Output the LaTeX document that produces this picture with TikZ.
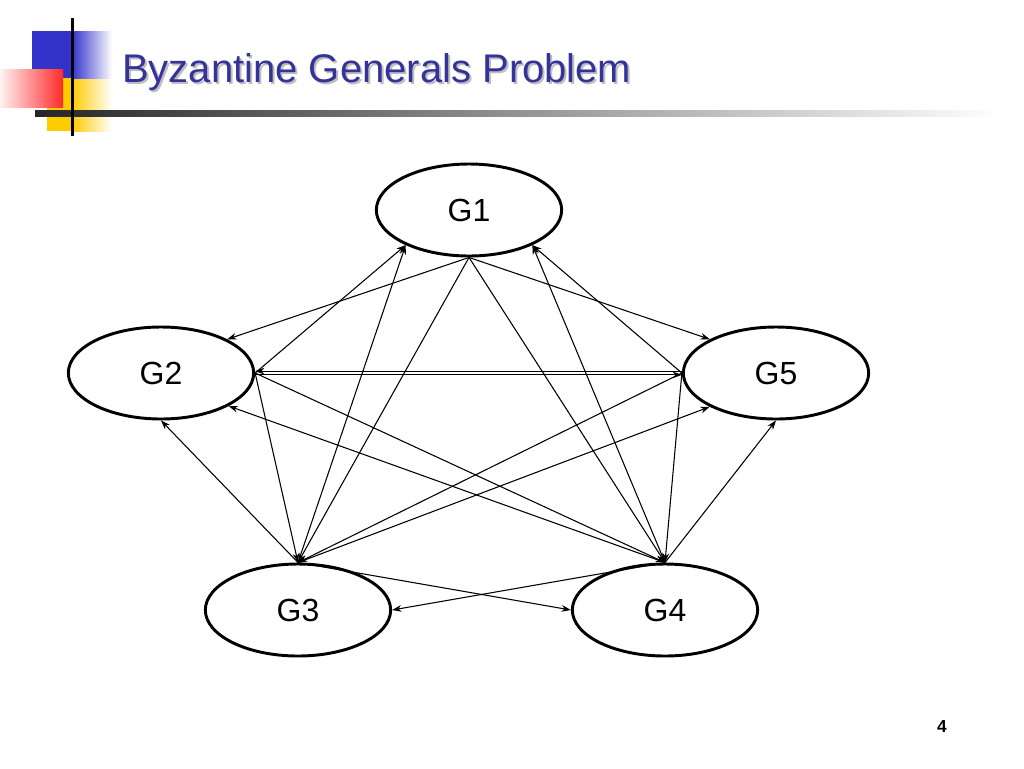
\documentclass[tikz,border=0pt]{standalone}
\usepackage{fontspec}
\setmainfont{Liberation Sans}
\usepackage{xcolor}
\usetikzlibrary{arrows.meta,shapes.geometric}

\definecolor{title_blue}{HTML}{333399}
\definecolor{deco_blue}{HTML}{3333CC}
\definecolor{deco_red}{HTML}{FF2A2A}
\definecolor{deco_yellow}{HTML}{FFCC00}

\begin{document}
\begin{tikzpicture}[
    x=0.75pt, y=-0.75pt,
    gen_box/.style={draw, ellipse, line width=2.2pt, fill=white, minimum width=139pt, minimum height=69pt, inner sep=0pt, font=\fontsize{24}{28}\selectfont},
    title_text/.style={anchor=base west, inner sep=0pt, font=\fontsize{30}{36}\selectfont},
    arrow/.style={-{Stealth[length=7pt,width=5pt]}, line width=0.8pt}
]
\useasboundingbox (0,0) rectangle (1024,768);

% slide decoration
\fill[deco_yellow] (47,78) rectangle (72,131);
\shade[left color=deco_yellow, right color=white] (72,78) rectangle (112,131);
\fill[deco_blue] (32,31) rectangle (72,78);
\shade[left color=deco_blue, right color=white] (72,31) rectangle (112,78);
\shade[left color=red!5, right color=deco_red] (0,69) rectangle (63,107);
\shade[left color=black!85, right color=white] (35,110) rectangle (1000,116);
\draw[line width=2.2pt] (72.5,18) -- (72.5,136);

\node (title_shadow) [title_text, text=gray!50] at (124,84) {Byzantine Generals Problem};
\node (title) [title_text, text=title_blue] at (122,82) {Byzantine Generals Problem};

% generals
\node (g1) [gen_box] at (469,210) {G1};
\node (g2) [gen_box] at (161,373) {G2};
\node (g5) [gen_box] at (776,373) {G5};
\node (g3) [gen_box] at (298,610) {G3};
\node (g4) [gen_box] at (665,610) {G4};

% G1 sends
\draw [arrow] (g1.south) -- (g2.27);
\draw [arrow] (g1.south) -- (g5.153);
\draw [arrow] (g1.south) -- (g3.north);
\draw [arrow] (g1.south) -- (g4.north);
% G2 sends
\draw [arrow] (g2.east) -- (g1.209);
\draw [arrow] ([yshift=-1.4pt]g2.east) -- ([yshift=-1.4pt]g5.west);
\draw [arrow] (g2.east) -- (g3.north);
\draw [arrow] (g2.east) -- (g4.north);
% G5 sends
\draw [arrow] (g5.west) -- (g1.331);
\draw [arrow] ([yshift=1.4pt]g5.west) -- ([yshift=1.4pt]g2.east);
\draw [arrow] (g5.west) -- (g3.north);
\draw [arrow] (g5.west) -- (g4.north);
% G3 sends
\draw [arrow] (g3.north) -- (g1.209);
\draw [arrow] (g3.north) -- (g2.south);
\draw [arrow] (g3.north) -- (g4.west);
\draw [arrow] (g3.north) -- (g5.207);
% G4 sends
\draw [arrow] (g4.north) -- (g1.331);
\draw [arrow] (g4.north) -- (g2.334);
\draw [arrow] (g4.north) -- (g3.east);
\draw [arrow] (g4.north) -- (g5.south);

\node (page_num) [font=\bfseries\fontsize{13}{15}\selectfont] at (942,727) {4};

\end{tikzpicture}
\end{document}
